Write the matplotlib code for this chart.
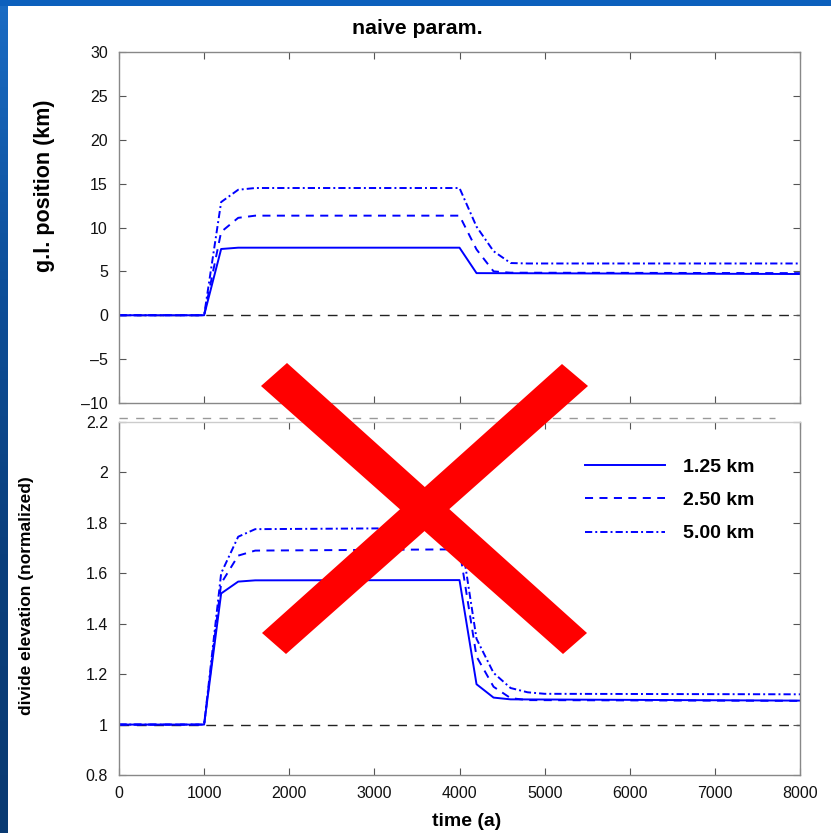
import matplotlib
matplotlib.use("Agg")
import matplotlib.pyplot as plt
import numpy as np
from matplotlib.patches import Polygon, Rectangle
from matplotlib.lines import Line2D

plt.rcParams['font.family'] = ['Liberation Sans', 'DejaVu Sans']
plt.rcParams['lines.scale_dashes'] = False

W, H = 831, 833

# --- data ---
labels = ["1.25 km", "2.50 km", "5.00 km"]

# grounding line position (km)
t_gl_125 = [0, 1000, 1200, 1400, 4000, 4200, 8000]
gl_125 = [0, 0, 7.55, 7.7, 7.7, 4.8, 4.7]
t_gl_250 = [0, 1000, 1200, 1400, 1600, 4000, 4200, 4400, 4600, 8000]
gl_250 = [0, 0, 9.5, 11.1, 11.35, 11.35, 7.5, 5.0, 4.85, 4.8]
t_gl_500 = [0, 1000, 1200, 1400, 1600, 4000, 4200, 4400, 4600, 4800, 8000]
gl_500 = [0, 0, 12.9, 14.3, 14.5, 14.5, 10.1, 7.3, 5.95, 5.9, 5.9]

# divide elevation (normalized)
t_dv_125 = [0, 1000, 1200, 1400, 1600, 4000, 4200, 4400, 4600, 8000]
dv_125 = [1, 1, 1.52, 1.567, 1.572, 1.573, 1.16, 1.107, 1.10, 1.095]
t_dv_250 = [0, 1000, 1200, 1400, 1600, 4000, 4200, 4400, 4600, 4800, 8000]
dv_250 = [1, 1, 1.56, 1.67, 1.69, 1.695, 1.27, 1.15, 1.105, 1.097, 1.094]
t_dv_500 = [0, 1000, 1200, 1400, 1600, 4000, 4200, 4400, 4600, 4800, 5000, 8000]
dv_500 = [1, 1, 1.60, 1.745, 1.775, 1.78, 1.34, 1.205, 1.145, 1.128, 1.122, 1.12]

x_ticks = [0, 1000, 2000, 3000, 4000, 5000, 6000, 7000, 8000]
gl_ticks = [-10, -5, 0, 5, 10, 15, 20, 25, 30]
dv_ticks = [0.8, 1, 1.2, 1.4, 1.6, 1.8, 2, 2.2]

blue = '#0000ff'
styles = [dict(linestyle='-'),
          dict(linestyle=(0, (5.8, 4.6))),
          dict(linestyle=(0, (5.2, 2.2, 1.4, 2.2)))]


def px(x0, y0, x1, y1):
    # pixel box -> figure fraction rect
    return [x0 / W, 1 - y1 / H, (x1 - x0) / W, (y1 - y0) / H]


fig = plt.figure(figsize=(W / 100, H / 100), dpi=100)
fig.patch.set_facecolor('white')

# slide frame (blue bands)
bg = fig.add_axes([0, 0, 1, 1], zorder=-5)
bg.set_axis_off()
bg.set_xlim(0, W)
bg.set_ylim(H, 0)
grad = np.linspace(0, 1, 200).reshape(-1, 1)
bg.imshow(grad, extent=(0, 8, H, 0), aspect='auto',
          cmap=matplotlib.colors.LinearSegmentedColormap.from_list(
              'slide', ['#1a6cc4', '#0d4f9a', '#0a3f7c', '#093a72']))
bg.add_patch(Rectangle((0, 0), W, 6, color='#0c60bd', lw=0))

ax1 = fig.add_axes(px(119, 52, 800, 403))
ax2 = fig.add_axes(px(119, 422, 800, 775))

gl_series = [(t_gl_125, gl_125), (t_gl_250, gl_250), (t_gl_500, gl_500)]
dv_series = [(t_dv_125, dv_125), (t_dv_250, dv_250), (t_dv_500, dv_500)]

ax1.axhline(0, color='#222222', lw=1.0, linestyle=(0, (7, 5.5)), zorder=1)
ax2.axhline(1, color='#222222', lw=1.0, linestyle=(0, (7, 5.5)), zorder=1)

for (t, v), st, lab in zip(gl_series, styles, labels):
    ax1.plot(t, v, color=blue, lw=1.4, label=lab, **st)
for (t, v), st, lab in zip(dv_series, styles, labels):
    ax2.plot(t, v, color=blue, lw=1.4, label=lab, **st)

for ax in (ax1, ax2):
    ax.set_xlim(0, 8000)
    ax.set_xticks(x_ticks)
    ax.tick_params(direction='in', length=5, width=0.8, color='#555555',
                   top=True, right=True, labelsize=11.5, pad=8,
                   labelcolor='#111111')
    for s in ax.spines.values():
        s.set_color('#888888')
        s.set_linewidth(1.0)

ax1.set_ylim(-10, 30)
ax1.set_yticks(gl_ticks)
ax1.set_yticklabels([str(v).replace('-', '\u2013') for v in gl_ticks])
ax1.tick_params(labelbottom=False)

ax2.set_ylim(0.8, 2.2)
ax2.set_yticks(dv_ticks)
ax2.set_yticklabels(['0.8', '1', '1.2', '1.4', '1.6', '1.8', '2', '2.2'])
ax2.set_xticklabels([str(v) for v in x_ticks])
ax2.spines['top'].set_color('#cccccc')

# dashed grey separator between the panels
fig.add_artist(Line2D([119 / W, 775 / W], [1 - 418 / H, 1 - 418 / H],
                      color='#999999', lw=1.0, linestyle=(0, (6, 6))))

leg = ax2.legend(loc='upper left', bbox_to_anchor=(0.6845, 0.898),
                 frameon=False, handlelength=4.1, handletextpad=0.93,
                 labelspacing=0.81, borderaxespad=0, borderpad=0,
                 prop=dict(weight='bold', size=14))

fig.text(417 / W, 1 - 28 / H, 'naive param.', ha='center', va='center',
         fontsize=15.3, fontweight='bold')
fig.text(45 / W, 1 - 186 / H, 'g.l. position (km)', rotation=90,
         ha='center', va='center', fontsize=15.5, fontweight='bold')
fig.text(26 / W, 1 - 596 / H, 'divide elevation (normalized)', rotation=90,
         ha='center', va='center', fontsize=12.5, fontweight='bold')
fig.text(467 / W, 1 - 821 / H, 'time (a)', ha='center', va='center',
         fontsize=14, fontweight='bold')

# big red cross over the figure
bar1 = [(261, 386), (287, 363), (587, 633), (563, 654)]
bar2 = [(562, 364), (588, 386), (286, 654), (262, 633)]
for bar in (bar1, bar2):
    fig.add_artist(Polygon([(x / W, 1 - y / H) for x, y in bar], closed=True,
                           facecolor='#ff0000', edgecolor='none', zorder=10))

fig.savefig('out.png', dpi=100)
